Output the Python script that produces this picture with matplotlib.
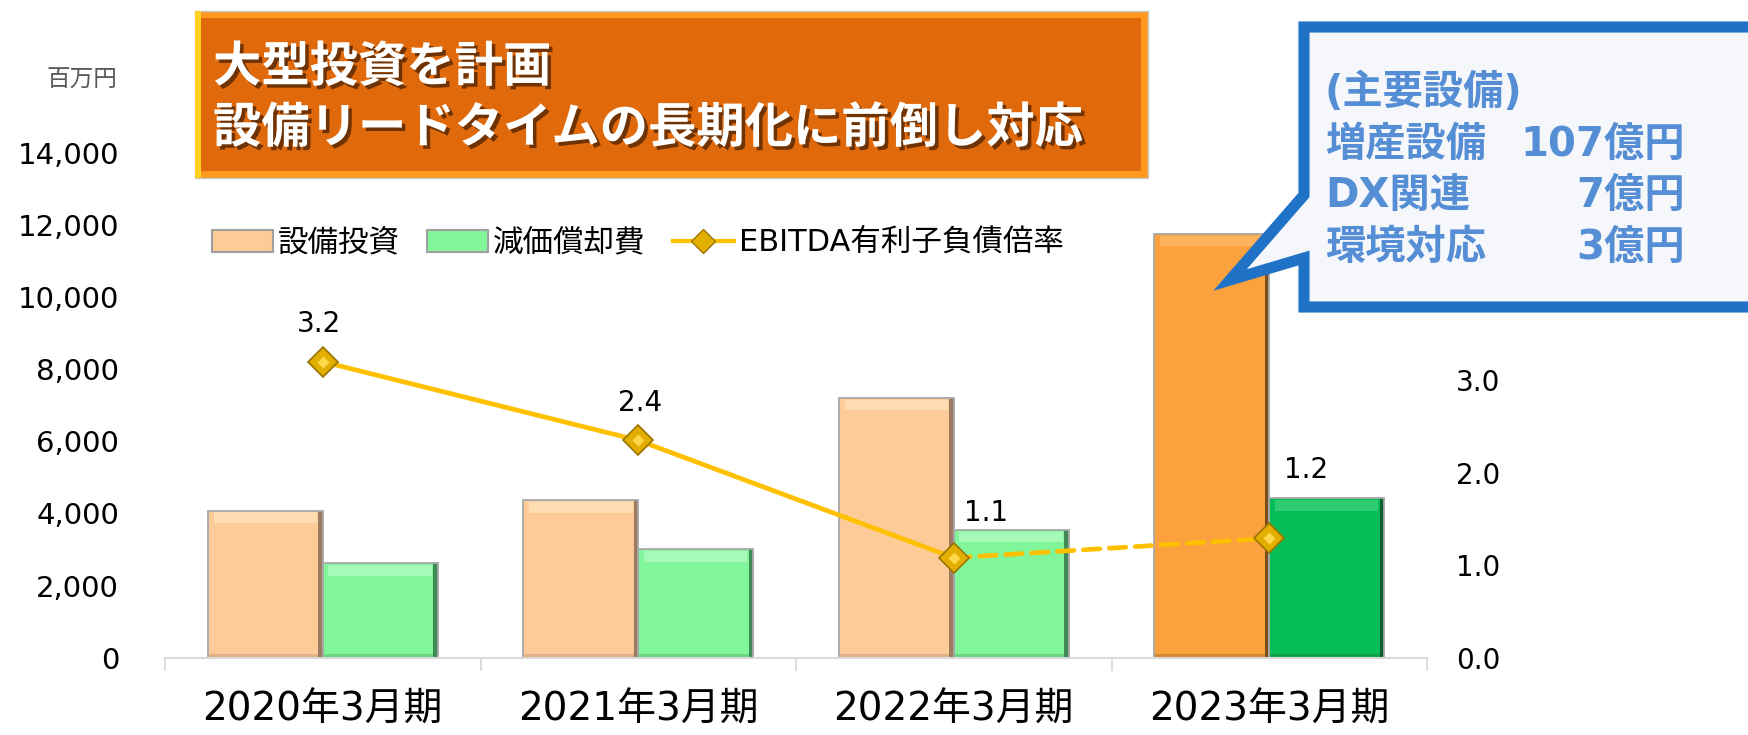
"""Capex vs depreciation with EBITDA debt ratio - recreated chart"""
import numpy as np
import matplotlib
matplotlib.use("Agg")
import matplotlib.pyplot as plt
import matplotlib.patheffects as pe
from matplotlib.patches import Patch, Rectangle, Polygon
from matplotlib.lines import Line2D

plt.rcParams["font.family"] = ["DejaVu Sans", "Noto Sans CJK JP"]

# data
periods = ["2020年3月期", "2021年3月期", "2022年3月期", "2023年3月期"]
capex = [4075, 4370, 7200, 11745]          # 設備投資 (百万円)
depreciation = [2615, 3000, 3540, 4420]    # 減価償却費 (百万円)
ratio = [3.2, 2.35, 1.08, 1.29]            # EBITDA有利子負債倍率 (plotted position)
ratio_labels = ["3.2", "2.4", "1.1", "1.2"]
left_ticks = [0, 2000, 4000, 6000, 8000, 10000, 12000, 14000]
right_ticks = [0.0, 1.0, 2.0, 3.0]
series_names = ["設備投資", "減価償却費", "EBITDA有利子負債倍率"]

title_lines = ["大型投資を計画", "設備リードタイムの長期化に前倒し対応"]
note_items = ["(主要設備)", "増産設備", "DX関連", "環境対応"]
note_amounts = ["", "107億円", "7億円", "3億円"]

# styling
capex_face = ["#FDCB98", "#FDCB98", "#FDCB98", "#FBA13E"]
capex_top = ["#FFDDB2", "#FFDDB2", "#FFDDB2", "#FDB35E"]
capex_side = ["#9C7B60", "#9C7B60", "#9C7B60", "#7A4E1A"]
dep_face = ["#80F59A", "#80F59A", "#80F59A", "#07BE56"]
dep_top = ["#A6F9B9", "#A6F9B9", "#A6F9B9", "#2ECB72"]
dep_side = ["#3F8A55", "#3F8A55", "#3F8A55", "#0B5E30"]
LINE = "#FFC000"
BLUE_TXT = "#558ED5"

W, H = 1748, 735
fig = plt.figure(figsize=(W / 100, H / 100), dpi=100)


def fx(px):
    return px / W


def fy(py):
    return 1 - py / H


ax = fig.add_axes([fx(165), fy(657.7), (1427 - 165) / W, (657.7 - 152.7) / H])
ax.set_xlim(-0.5, 3.5)
ax.set_ylim(0, 14000)

x = np.arange(len(periods))
w = 0.364
band = 300     # top highlight in data units
side = 0.014   # right shadow strip


def bevel_bars(xs, vals, face, top, shade):
    vals = np.asarray(vals, dtype=float)
    ax.bar(xs, vals, width=w, color=face, zorder=2)
    ax.bar(xs, band, bottom=vals - band * 1.15, width=w * 0.9, color=top, zorder=2.1)
    ax.bar(xs, band * 0.35, width=w, color=shade, alpha=0.3, zorder=2.1)
    ax.bar(xs + w / 2 - side / 2, vals, width=side, color=shade, zorder=2.2)
    ax.bar(xs, vals, width=w, fill=False, edgecolor="#A8A8A8", linewidth=1.3, zorder=2.3)


bevel_bars(x - w / 2, capex, capex_face, capex_top, capex_side)
bevel_bars(x + w / 2, depreciation, dep_face, dep_top, dep_side)

for s in ["top", "left", "right"]:
    ax.spines[s].set_visible(False)
ax.spines["bottom"].set_color("#D9D9D9")
ax.spines["bottom"].set_linewidth(1.5)

ax.set_yticks(left_ticks)
ax.set_yticklabels([f"{v:,}" for v in left_ticks], fontsize=21)
ax.tick_params(axis="y", length=0, pad=33)
ax.set_xticks(x)
ax.set_xticklabels(periods, fontsize=28, family=["DejaVu Sans", "Noto Sans CJK JP"])
ax.tick_params(axis="x", which="major", length=0, pad=24)
ax.set_xticks(np.arange(-0.5, 4.0, 1.0), minor=True)
ax.tick_params(axis="x", which="minor", length=9, width=1.3, color="#D9D9D9", direction="out")

# ratio line on right axis
ax2 = ax.twinx()
ax2.set_ylim(0, 505 / 92.5)
for s in ["top", "left", "right", "bottom"]:
    ax2.spines[s].set_visible(False)
ax2.set_yticks(right_ticks)
ax2.set_yticklabels([f"{v:.1f}" for v in right_ticks], fontsize=20)
ax2.tick_params(axis="y", length=0, pad=21)

ax2.plot(x[:3], ratio[:3], color=LINE, lw=3.4, zorder=3, solid_capstyle="round")
ax2.plot(x[2:], ratio[2:], color=LINE, lw=3.4, ls=(0, (3.5, 2)), dash_capstyle="round", zorder=3)
ax2.plot(x, ratio, ls="none", marker="D", ms=15, mfc="#E2AE00", mec="#9A7400", mew=1.2, zorder=4)
ax2.plot(x, ratio, ls="none", marker="D", ms=6, mfc="#FFD84A", mec="none", zorder=4.1)

label_offsets = [(-4, 38), (2, 37), (32, 45), (37, 68)]
for xi, r, lbl, off in zip(x, ratio, ratio_labels, label_offsets):
    ax2.annotate(lbl, (xi, r), xytext=off, textcoords="offset pixels",
                 ha="center", va="center", fontsize=20, zorder=5)

# unit label
fig.text(fx(82), fy(80), "百万円", ha="center", va="center", fontsize=17,
         color="#595959", family=["Noto Sans CJK JP"])

# legend
handles = [
    Patch(facecolor=capex_face[0], edgecolor="#A0A0A0", linewidth=1.5),
    Patch(facecolor=dep_face[0], edgecolor="#A0A0A0", linewidth=1.5),
    Line2D([], [], color=LINE, lw=3, marker="D", ms=12, mfc="#E2AE00", mec="#9A7400"),
]
fig.legend(handles, series_names, loc="center left", bbox_to_anchor=(fx(212), fy(243)),
           ncol=3, frameon=False, handlelength=2.0, handleheight=0.75,
           handletextpad=0.15, columnspacing=0.9, borderpad=0, borderaxespad=0,
           prop={"family": ["DejaVu Sans", "Noto Sans CJK JP"], "size": 22})

# title banner
fig.add_artist(Rectangle((fx(195), fy(178)), fx(1148) - fx(195), (178 - 11) / H,
                         transform=fig.transFigure, facecolor="#FF981C", edgecolor="#C8C8C8",
                         linewidth=1, zorder=5))
fig.add_artist(Rectangle((fx(201), fy(171)), fx(1141) - fx(201), (171 - 18) / H,
                         transform=fig.transFigure, facecolor="#E06A0B", edgecolor="none", zorder=5))
fig.add_artist(Rectangle((fx(195), fy(178)), fx(201) - fx(195), (178 - 11) / H,
                         transform=fig.transFigure, facecolor="#FFD21F", edgecolor="none", zorder=5))
shadow = [pe.withSimplePatchShadow(offset=(2.5, -2.5), shadow_rgbFace="#4A2000", alpha=0.75)]
for ty, line in zip([67, 128], title_lines):
    fig.text(fx(213), fy(ty), line, color="white", fontsize=34.8, weight="bold", va="center",
             family=["Noto Sans CJK JP"], path_effects=shadow, zorder=6)

# callout box
callout = [(1304, 27), (1760, 27), (1760, 307), (1304, 307), (1304, 258),
           (1230, 280), (1304, 195)]
fig.add_artist(Polygon([(fx(px), fy(py)) for px, py in callout], closed=True,
                       transform=fig.transFigure, facecolor="#F5F7FA", edgecolor="#1F72C6",
                       linewidth=8, joinstyle="miter", zorder=5))
note_font = ["DejaVu Sans", "Noto Sans CJK JP"]
for ty, item, amt in zip([93, 145, 196, 248], note_items, note_amounts):
    fig.text(fx(1325), fy(ty), item, color=BLUE_TXT, fontsize=29, weight="bold", va="center",
             family=note_font, zorder=6)
    if amt:
        fig.text(fx(1685), fy(ty), amt, color=BLUE_TXT, fontsize=29, weight="bold", va="center",
                 ha="right", family=note_font, zorder=6)

fig.savefig("out.png", dpi=100)
